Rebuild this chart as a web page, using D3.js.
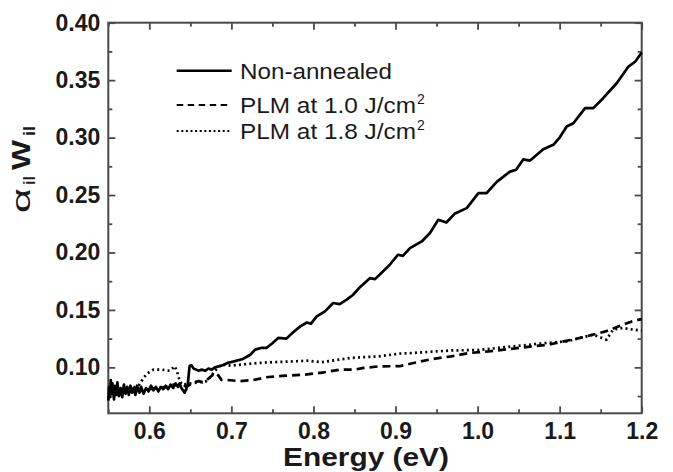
<!DOCTYPE html>
<html lang="en">
  <head>
    <meta charset="utf-8" />
    <title>Absorption vs energy</title>
    <script src="https://cdn.jsdelivr.net/npm/d3@7"></script>
    <style>
      body { margin: 0; background: #fff; }
      svg text { font-family: "Liberation Sans", Arial, sans-serif; }
    </style>
  </head>
  <body>
    <script>
      // values: [energy (eV), alpha*W]
      var nonAnnealed = [
        [0.550, 0.071], [0.551, 0.083], [0.552, 0.074], [0.553, 0.089], [0.554, 0.077],
        [0.555, 0.086], [0.557, 0.072], [0.558, 0.084], [0.560, 0.076], [0.561, 0.087],
        [0.563, 0.075], [0.565, 0.082], [0.567, 0.074], [0.569, 0.085], [0.571, 0.077],
        [0.573, 0.083], [0.575, 0.076], [0.577, 0.084], [0.579, 0.078], [0.581, 0.082],
        [0.583, 0.076], [0.585, 0.084], [0.588, 0.078], [0.590, 0.083], [0.593, 0.077],
        [0.596, 0.082], [0.599, 0.079], [0.602, 0.084], [0.605, 0.080], [0.608, 0.083],
        [0.611, 0.079], [0.614, 0.083], [0.617, 0.081], [0.620, 0.084], [0.623, 0.081],
        [0.626, 0.085], [0.629, 0.082], [0.632, 0.086], [0.635, 0.083], [0.637, 0.086],
        [0.639, 0.082], [0.641, 0.080], [0.643, 0.078], [0.645, 0.081], [0.647, 0.086],
        [0.649, 0.101], [0.651, 0.102], [0.654, 0.099], [0.657, 0.098], [0.660, 0.097],
        [0.664, 0.098], [0.668, 0.097], [0.672, 0.099], [0.676, 0.098], [0.680, 0.100],
        [0.685, 0.101], [0.690, 0.102], [0.696, 0.104], [0.702, 0.105], [0.713, 0.107],
        [0.723, 0.111], [0.729, 0.1154], [0.737, 0.117], [0.743, 0.117], [0.750, 0.121],
        [0.757, 0.1256], [0.767, 0.125], [0.776, 0.131], [0.784, 0.1357], [0.792, 0.139],
        [0.797, 0.138], [0.804, 0.1444], [0.814, 0.1487], [0.824, 0.156], [0.832, 0.155],
        [0.8405, 0.1589], [0.848, 0.163], [0.857, 0.170], [0.869, 0.1777], [0.875, 0.1768],
        [0.884, 0.183], [0.893, 0.1893], [0.903, 0.198], [0.909, 0.197], [0.9176, 0.2038],
        [0.932, 0.2096], [0.942, 0.2169], [0.952, 0.2284], [0.962, 0.2261], [0.9725, 0.234],
        [0.9868, 0.2386], [1.001, 0.2516], [1.011, 0.2516], [1.023, 0.2612], [1.0395, 0.2704],
        [1.047, 0.272], [1.0556, 0.281], [1.064, 0.280], [1.080, 0.2899], [1.0923, 0.2937],
        [1.100, 0.300], [1.1086, 0.3096], [1.1167, 0.3125], [1.131, 0.3256], [1.141, 0.3256],
        [1.153, 0.3343], [1.1695, 0.3473], [1.1837, 0.3617], [1.192, 0.366], [1.200, 0.374]
      ];
      var plm10 = [
        [0.550, 0.078], [0.560, 0.077], [0.570, 0.079], [0.580, 0.079], [0.590, 0.080],
        [0.600, 0.081], [0.610, 0.082], [0.620, 0.083], [0.630, 0.085], [0.635, 0.084],
        [0.640, 0.086], [0.645, 0.083], [0.650, 0.085], [0.655, 0.087], [0.660, 0.088],
        [0.665, 0.087], [0.670, 0.089], [0.675, 0.092], [0.680, 0.095], [0.684, 0.093],
        [0.688, 0.089], [0.695, 0.089], [0.710, 0.088], [0.727, 0.089], [0.745, 0.0916],
        [0.767, 0.0928], [0.790, 0.0937], [0.813, 0.0957], [0.832, 0.098], [0.850, 0.098],
        [0.861, 0.0995], [0.880, 0.1009], [0.905, 0.101], [0.922, 0.1038], [0.945, 0.1073],
        [0.968, 0.1096], [0.990, 0.1125], [1.013, 0.1139], [1.040, 0.116], [1.066, 0.1183],
        [1.086, 0.1197], [1.105, 0.1226], [1.125, 0.1256], [1.140, 0.1284], [1.156, 0.1313],
        [1.172, 0.1357], [1.188, 0.140], [1.200, 0.142]
      ];
      var plm18 = [
        [0.550, 0.080], [0.560, 0.079], [0.570, 0.080], [0.580, 0.082], [0.588, 0.085],
        [0.593, 0.091], [0.598, 0.095], [0.605, 0.098], [0.615, 0.098], [0.625, 0.097],
        [0.631, 0.101], [0.634, 0.096], [0.637, 0.088], [0.640, 0.085], [0.650, 0.086],
        [0.660, 0.087], [0.670, 0.088], [0.675, 0.092], [0.680, 0.097], [0.688, 0.1024],
        [0.700, 0.1015], [0.720, 0.103], [0.743, 0.1043], [0.770, 0.105], [0.792, 0.1058],
        [0.810, 0.1045], [0.845, 0.1082], [0.880, 0.1096], [0.905, 0.112], [0.920, 0.1125],
        [0.970, 0.1148], [1.000, 0.115], [1.043, 0.1183], [1.084, 0.1212], [1.109, 0.1226],
        [1.125, 0.1256], [1.141, 0.1284], [1.150, 0.126], [1.157, 0.1241], [1.165, 0.1328],
        [1.177, 0.1343], [1.188, 0.133], [1.200, 0.132]
      ];
      var xTicks = [0.6, 0.7, 0.8, 0.9, 1.0, 1.1, 1.2];
      var xMinor = [0.55, 0.65, 0.75, 0.85, 0.95, 1.05, 1.15];
      var yTicks = [0.10, 0.15, 0.20, 0.25, 0.30, 0.35, 0.40];
      var yMinor = [0.075, 0.125, 0.175, 0.225, 0.275, 0.325, 0.375];
      var legendNames = ["Non-annealed", "PLM at 1.0 J/cm", "PLM at 1.8 J/cm"];

      var W = 673, H = 472;
      var margin = { top: 22.7, right: 31.3, bottom: 58.7, left: 108.3 };
      var width = W - margin.left - margin.right,
        height = H - margin.top - margin.bottom;

      var x = d3.scaleLinear().domain([0.55, 1.2]).range([0, width]);
      var y = d3.scaleLinear().domain([0.06, 0.4]).range([height, 0]);

      var svg = d3
        .select("body")
        .append("svg")
        .attr("width", W)
        .attr("height", H);
      var g = svg
        .append("g")
        .attr("transform", "translate(" + margin.left + "," + margin.top + ")");

      var axisColor = "#4a4a4a";
      var fmt = d3.format(".1f");
      var fmt2 = d3.format(".2f");

      function styleAxis(sel) {
        sel.select(".domain").remove();
        sel.selectAll(".tick line").attr("stroke", axisColor).attr("stroke-width", 1.8);
        sel
          .selectAll(".tick text")
          .attr("fill", "#1a1a1a")
          .style("font-size", "23px")
          .style("font-weight", "bold");
      }

      // bottom, with labels
      g.append("g")
        .attr("transform", "translate(0," + height + ")")
        .call(d3.axisBottom(x).tickValues(xTicks).tickFormat(fmt).tickSizeInner(-7).tickSizeOuter(0).tickPadding(9))
        .call(styleAxis);
      g.append("g")
        .attr("transform", "translate(0," + height + ")")
        .call(d3.axisBottom(x).tickValues(xMinor).tickFormat("").tickSizeInner(-4).tickSizeOuter(0))
        .call(styleAxis);
      // top
      g.append("g")
        .call(d3.axisTop(x).tickValues(xTicks).tickFormat("").tickSizeInner(-7).tickSizeOuter(0))
        .call(styleAxis);
      g.append("g")
        .call(d3.axisTop(x).tickValues(xMinor).tickFormat("").tickSizeInner(-4).tickSizeOuter(0))
        .call(styleAxis);
      // left, with labels
      g.append("g")
        .call(d3.axisLeft(y).tickValues(yTicks).tickFormat(fmt2).tickSizeInner(-7).tickSizeOuter(0).tickPadding(8))
        .call(styleAxis);
      g.append("g")
        .call(d3.axisLeft(y).tickValues(yMinor).tickFormat("").tickSizeInner(-4).tickSizeOuter(0))
        .call(styleAxis);
      // right
      g.append("g")
        .attr("transform", "translate(" + width + ",0)")
        .call(d3.axisRight(y).tickValues(yTicks).tickFormat("").tickSizeInner(-7).tickSizeOuter(0))
        .call(styleAxis);
      g.append("g")
        .attr("transform", "translate(" + width + ",0)")
        .call(d3.axisRight(y).tickValues(yMinor).tickFormat("").tickSizeInner(-4).tickSizeOuter(0))
        .call(styleAxis);

      // frame
      g.append("rect")
        .attr("width", width)
        .attr("height", height)
        .attr("fill", "none")
        .attr("stroke", axisColor)
        .attr("stroke-width", 2);

      var line = d3
        .line()
        .x(function (d) { return x(d[0]); })
        .y(function (d) { return y(d[1]); });

      var series = [
        { data: plm18, dash: "2,3.2" },
        { data: plm10, dash: "8,5" },
        { data: nonAnnealed, dash: null }
      ];
      g.selectAll(".series")
        .data(series)
        .enter()
        .append("path")
        .attr("class", "series")
        .attr("d", function (d) { return line(d.data); })
        .attr("fill", "none")
        .attr("stroke", "#000")
        .attr("stroke-width", 2.7)
        .attr("stroke-linejoin", "round")
        .attr("stroke-dasharray", function (d) { return d.dash; });

      // legend
      var legendY = [70.7, 105, 131];
      var legendDash = [null, "6.5,4.5", "2,2.6"];
      var legendLen = [152, 176, 176];
      var legend = svg
        .selectAll(".legend")
        .data(legendNames)
        .enter()
        .append("g")
        .attr("class", "legend")
        .attr("transform", function (d, i) { return "translate(0," + legendY[i] + ")"; });
      legend
        .append("line")
        .attr("x1", 176.7)
        .attr("x2", 231.7)
        .attr("stroke", "#000")
        .attr("stroke-width", function (d, i) { return i === 0 ? 2.6 : 2.2; })
        .attr("stroke-dasharray", function (d, i) { return legendDash[i]; });
      legend
        .append("text")
        .attr("x", 240)
        .attr("y", 8)
        .attr("fill", "#1a1a1a")
        .attr("textLength", function (d, i) { return legendLen[i]; })
        .attr("lengthAdjust", "spacingAndGlyphs")
        .style("font-size", "22px")
        .text(function (d) { return d; });
      legend
        .filter(function (d, i) { return i > 0; })
        .append("text")
        .attr("x", 240 + 177)
        .attr("y", -1)
        .attr("fill", "#1a1a1a")
        .style("font-size", "14px")
        .text("2");

      // axis titles
      svg.append("text")
        .attr("x", 366)
        .attr("y", 466)
        .attr("text-anchor", "middle")
        .attr("fill", "#1a1a1a")
        .attr("textLength", 166)
        .attr("lengthAdjust", "spacingAndGlyphs")
        .style("font-size", "25px")
        .style("font-weight", "bold")
        .text("Energy (eV)");

      // y title, laid out bottom-to-top along the rotated baseline
      var yl = svg.append("g").attr("transform", "translate(30,213) rotate(-90)");
      yl.append("text")
        .attr("x", 0)
        .attr("textLength", 25)
        .attr("lengthAdjust", "spacingAndGlyphs")
        .attr("fill", "#1a1a1a")
        .style("font-size", "26px")
        .text("\u03b1");
      yl.append("text")
        .attr("x", 28)
        .attr("y", 5)
        .attr("textLength", 9)
        .attr("lengthAdjust", "spacingAndGlyphs")
        .attr("fill", "#1a1a1a")
        .style("font-size", "16px")
        .style("font-weight", "bold")
        .text("il");
      yl.append("text")
        .attr("x", 43)
        .attr("textLength", 30)
        .attr("lengthAdjust", "spacingAndGlyphs")
        .attr("fill", "#1a1a1a")
        .style("font-size", "25px")
        .style("font-weight", "bold")
        .text("W");
      yl.append("text")
        .attr("x", 77)
        .attr("y", 5)
        .attr("textLength", 10)
        .attr("lengthAdjust", "spacingAndGlyphs")
        .attr("fill", "#1a1a1a")
        .style("font-size", "16px")
        .style("font-weight", "bold")
        .text("il");
    </script>
  </body>
</html>
